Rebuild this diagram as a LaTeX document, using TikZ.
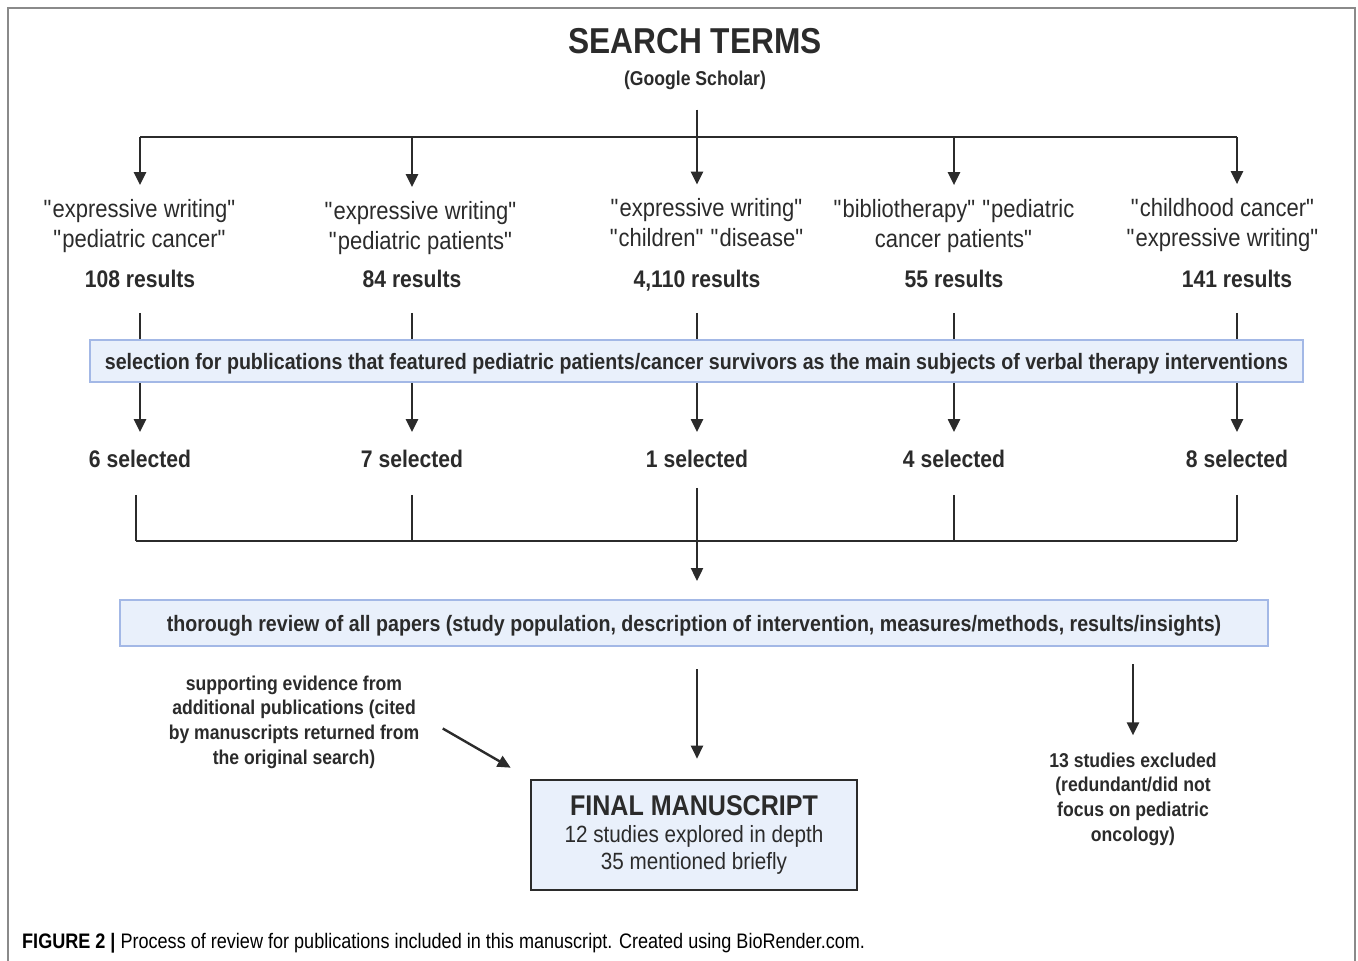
\documentclass[tikz,border=0pt]{standalone}
\usepackage{fontspec}
\setmainfont{Liberation Sans}[FakeStretch=0.88]
\newfontfamily\capfont{Liberation Sans}[FakeStretch=0.86]
\usetikzlibrary{arrows.meta}
\definecolor{linegray}{HTML}{2B2B2B}
\definecolor{boxblue}{HTML}{E9F0FB}
\definecolor{boxedge}{HTML}{A3B8E6}
\definecolor{framegray}{HTML}{8A8A8A}
\newcommand{\qt}{\textquotedbl}

\begin{document}
\begin{tikzpicture}[x=1pt, y=-1pt, >={Triangle[length=13pt,width=12pt]},
  conn/.style={line width=2.4pt, draw=linegray},
  term/.style={align=center, inner sep=0pt, text=linegray, font=\fontsize{25}{30}\selectfont},
  count/.style={inner sep=0pt, text height=17.5pt, text depth=0pt, text=linegray,
    font=\bfseries\fontsize{24}{29}\selectfont},
  note/.style={align=center, inner sep=0pt, text=linegray, font=\bfseries\fontsize{20}{24.7}\selectfont},
  stage/.style={draw=boxedge, line width=2pt, fill=boxblue, inner sep=0pt, text depth=0pt, text=linegray,
    font=\bfseries\fontsize{22.3}{26}\selectfont}]

  \useasboundingbox (0,0) rectangle (1358,961);
  \draw[framegray, line width=1.2pt] (8,961) -- (8,8) -- (1355,8) -- (1355,961);

  % heading
  \node[inner sep=0pt, text=linegray, font=\bfseries\fontsize{36}{40}\selectfont] (title) at (695,41) {SEARCH TERMS};
  \node[inner sep=0pt, text=linegray, font=\bfseries\fontsize{20}{24}\selectfont] (gs) at (695,80) {(Google Scholar)};

  % search terms
  \node[term] (t1) at (140,226) {\qt expressive writing\qt\\\qt pediatric cancer\qt};
  \node[term] (t2) at (421,228) {\qt expressive writing\qt\\\qt pediatric patients\qt};
  \node[term] (t3) at (707,223) {\qt expressive writing\qt\\\qt children\qt{} \qt disease\qt};
  \node[term] (t4) at (954,226) {\qt bibliotherapy\qt{} \qt pediatric\\cancer patients\qt};
  \node[term] (t5) at (1223,225) {\qt childhood cancer\qt\\\qt expressive writing\qt};

  \node[count] (r1) at (140,279) {108 results};
  \node[count] (r2) at (412,279) {84 results};
  \node[count] (r3) at (697,279) {4,110 results};
  \node[count] (r4) at (954,279) {55 results};
  \node[count] (r5) at (1237,279) {141 results};

  \node[stage, minimum width=1213pt, minimum height=42pt] (sel) at (696.5,361)
    {selection for publications that featured pediatric patients/cancer survivors as the main subjects of verbal therapy interventions};

  \node[count] (s1) at (140,459) {6 selected};
  \node[count] (s2) at (412,459) {7 selected};
  \node[count] (s3) at (697,459) {1 selected};
  \node[count] (s4) at (954,459) {4 selected};
  \node[count] (s5) at (1237,459) {8 selected};

  \node[stage, minimum width=1148pt, minimum height=46pt] (rev) at (694,623)
    {thorough review of all papers (study population, description of intervention, measures/methods, results/insights)};

  \node[note] (sup) at (294,722) {supporting evidence from\\additional publications (cited\\by manuscripts returned from\\the original search)};
  \node[note] (exc) at (1133,799) {13 studies excluded\\(redundant/did not\\focus on pediatric\\oncology)};

  \node[draw=linegray, line width=2.6pt, fill=boxblue, align=center, inner sep=0pt,
    minimum width=326pt, minimum height=110pt, text=linegray,
    font=\fontsize{23.5}{27}\selectfont] (fin) at (694,835)
    {{\bfseries\fontsize{28.5}{31}\selectfont FINAL MANUSCRIPT}\\12 studies explored in depth\\35 mentioned briefly};

  % bus under the heading
  \coordinate (split) at (697,137);
  \coordinate (b1) at (140,137);
  \coordinate (b2) at (412,137);
  \coordinate (b3) at (697,137);
  \coordinate (b4) at (954,137);
  \coordinate (b5) at (1237,137);
  \draw[conn, shorten <=20pt] (split |- gs.south) -- (split);
  \draw[conn] (b1) -- (b5);
  \foreach \n in {1,...,5}
    \draw[conn, ->, shorten >=14pt] (b\n) -- (b\n |- t\n.north);

  % through the selection box
  \foreach \n in {1,...,5} {
    \draw[conn, shorten <=25pt] (r\n.south) -- (r\n |- sel.north);
    \draw[conn, ->, shorten >=18pt] (sel.south -| s\n) -- (s\n.north);
  }

  % bus under the selected counts
  \coordinate (m1) at (136,541);
  \coordinate (m2) at (412,541);
  \coordinate (m4) at (954,541);
  \coordinate (m5) at (1237,541);
  \draw[conn] (m1) -- (m5);
  \foreach \n in {1,2,4,5}
    \draw[conn, shorten <=27pt] (s\n.south -| m\n) -- (m\n);
  \draw[conn, ->, shorten <=20pt, shorten >=18pt] (s3.south) -- (s3.south |- rev.north);

  % to the final manuscript
  \draw[conn, ->, shorten <=22pt, shorten >=20pt] (rev.south -| s3) -- (fin.north -| s3);
  \draw[conn, ->, shorten <=17pt, shorten >=17pt] (rev.south -| exc) -- (exc.north);
  \draw[conn, ->, shorten <=27pt, shorten >=22pt] ([yshift=7pt]sup.east) -- (fin.north west);

  \node[anchor=west, inner sep=0pt, text=black, font=\capfont\fontsize{21}{24}\selectfont] (cap) at (22,943)
    {\textbf{FIGURE 2 |} Process of review for publications included in this manuscript. Created using BioRender.com.};
\end{tikzpicture}
\end{document}
